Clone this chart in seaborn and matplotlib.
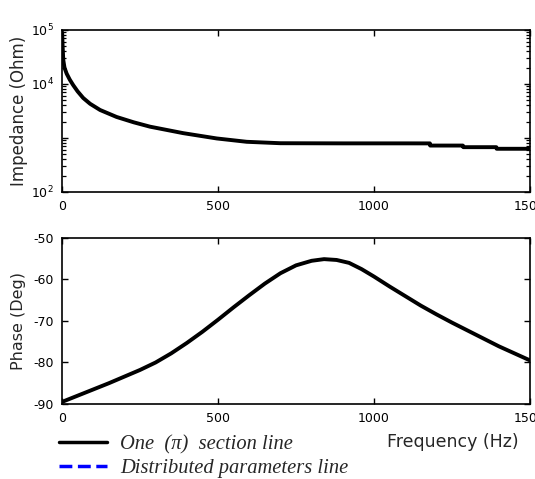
import matplotlib
matplotlib.use("Agg")
import matplotlib.pyplot as plt
import seaborn as sns
import pandas as pd
from matplotlib.lines import Line2D
from matplotlib.ticker import FixedLocator, NullFormatter

# ---- data ----
imp_freq = [0.5, 2, 4, 8, 15, 25, 36, 50, 68, 90, 122, 175, 230, 282, 388, 496,
            592, 700, 900, 1100, 1179, 1180, 1285, 1286, 1392, 1393, 1500]
imp_ohm = [90000, 50000, 28000, 20000, 15500, 12000, 9500, 7300, 5500, 4300, 3300,
           2450, 1950, 1620, 1230, 980, 850, 800, 795, 795, 794, 724, 724, 676, 676,
           631, 631]

ph_freq = [0, 50, 100, 150, 200, 250, 300, 350, 400, 450, 500, 550, 600, 650, 700,
           750, 800, 840, 880, 920, 960, 1000, 1050, 1100, 1150, 1200, 1250, 1300,
           1350, 1400, 1450, 1500]
ph_deg = [-89.5, -88.0, -86.5, -85.0, -83.4, -81.8, -80.0, -77.8, -75.3, -72.6,
          -69.7, -66.7, -63.8, -61.0, -58.5, -56.6, -55.5, -55.1, -55.3, -56.0,
          -57.5, -59.3, -61.7, -64.0, -66.3, -68.4, -70.4, -72.3, -74.2, -76.1,
          -77.8, -79.5]

legend_labels = ["One  (\u03c0)  section line", "Distributed parameters line"]
x_ticks = [0, 500, 1000, 1500]

imp_df = pd.DataFrame({"f": imp_freq, "z": imp_ohm})
ph_df = pd.DataFrame({"f": ph_freq, "p": ph_deg})

sns.set_style("ticks")
plt.rcParams["font.family"] = ["DejaVu Sans"]
plt.rcParams["mathtext.fontset"] = "dejavusans"

fig = plt.figure(figsize=(5.35, 4.79), dpi=100)
ax1 = fig.add_axes([0.1159, 0.5992, 0.8748, 0.3382])
ax2 = fig.add_axes([0.1159, 0.1566, 0.8748, 0.3466])

for ax, df, ycol in [(ax1, imp_df, "z"), (ax2, ph_df, "p")]:
    # distributed parameters line (hidden under the pi-section line)
    sns.lineplot(data=df, x="f", y=ycol, ax=ax, color="blue", linestyle="--",
                 linewidth=1.5, zorder=2)
    sns.lineplot(data=df, x="f", y=ycol, ax=ax, color="black", linewidth=2.8,
                 zorder=3)
    ax.set_xlim(0, 1500)
    ax.set_xticks(x_ticks)
    ax.set_xticklabels([str(t) for t in x_ticks])
    ax.set_xlabel("")
    for s in ax.spines.values():
        s.set_linewidth(1.2)
        s.set_visible(True)
        s.set_color("black")

ax1.set_yscale("log")
ax1.set_ylim(1e2, 1e5)
ax1.set_yticks([1e2, 1e3, 1e4, 1e5])
ax1.set_yticklabels(["$10^2$", "", "$10^4$", "$10^5$"])
minor_vals = [m * 10 ** d for d in (2, 3, 4) for m in range(2, 10)]
ax1.yaxis.set_minor_locator(FixedLocator(minor_vals))
ax1.yaxis.set_minor_formatter(NullFormatter())
ax1.set_ylabel("Impedance (Ohm)", fontsize=12, labelpad=2)

ax2.set_ylim(-90, -50)
ax2.set_yticks([-90, -80, -70, -60, -50])
ax2.set_yticklabels(["-90", "-80", "-70", "-60", "-50"])
ax2.set_ylabel("Phase (Deg)", fontsize=11.5, labelpad=5)

for ax in (ax1, ax2):
    ax.tick_params(which="major", direction="in", top=True, right=True,
                   length=4, width=1, labelsize=9, pad=6, labelcolor="black",
                   color="black")
    ax.tick_params(which="minor", direction="in", top=False, right=True,
                   left=True, length=3, width=0.9, color="black")

fig.text(0.970, 0.077, "Frequency (Hz)", fontsize=12.5, ha="right", va="center")

handles = [Line2D([0], [0], color="black", linewidth=2.5),
           Line2D([0], [0], color="blue", linewidth=2.5, linestyle="--")]
fig.legend(handles, legend_labels, loc="upper left",
           bbox_to_anchor=(0.110, 0.092), frameon=False, handlelength=2.35,
           handletextpad=0.62, labelspacing=0.22, borderaxespad=0, borderpad=0,
           prop={"family": "Liberation Serif", "style": "italic", "size": 14.8})

fig.savefig("out.png", dpi=100)
